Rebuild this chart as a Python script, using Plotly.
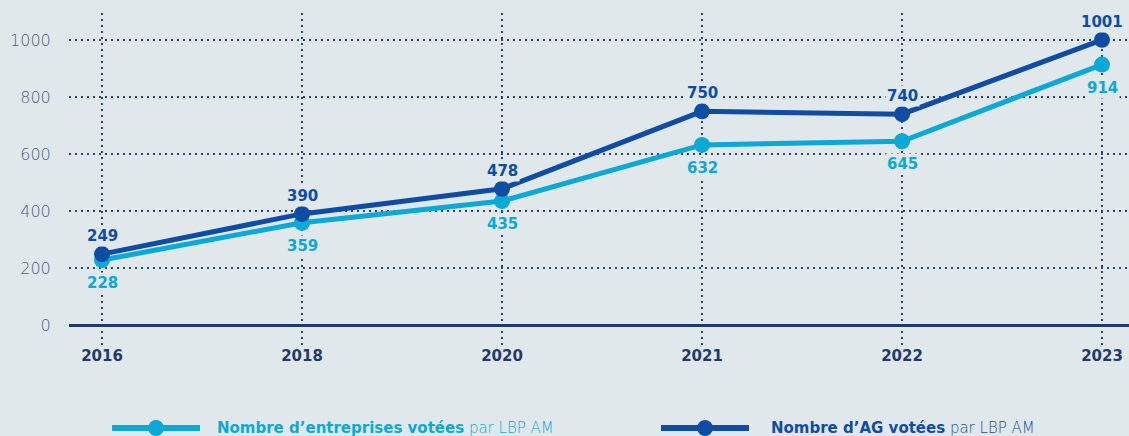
import plotly.graph_objects as go

years = ["2016", "2018", "2020", "2021", "2022", "2023"]
entreprises = [228, 359, 435, 632, 645, 914]
ag = [249, 390, 478, 750, 740, 1001]
y_ticks = [0, 200, 400, 600, 800, 1000]

name_ent = "Nombre d’entreprises votées"
name_ag = "Nombre d’AG votées"
suffix = " par LBP AM"

BG = "#e1e8ec"
CYAN = "#0aa9d6"
DARK = "#0f4ca3"
NAVY = "#1f3a6b"
GRID = "#2a4677"
FONT = "DejaVu Sans"

fig = go.Figure()
fig.add_trace(go.Scatter(
    x=years, y=entreprises, mode="lines+markers",
    line=dict(color=CYAN, width=5), marker=dict(color=CYAN, size=16),
    showlegend=False, cliponaxis=False))
fig.add_trace(go.Scatter(
    x=years, y=ag, mode="lines+markers",
    line=dict(color=DARK, width=5), marker=dict(color=DARK, size=16),
    showlegend=False, cliponaxis=False))

# data labels (category index positions on the category axis)
for i, v in enumerate(entreprises):
    fig.add_annotation(x=i, y=v, text=str(v), showarrow=False, yshift=-23,
                       bgcolor=BG, borderpad=1,
                       font=dict(color=CYAN, size=15, family=FONT, weight="bold"))
for i, v in enumerate(ag):
    fig.add_annotation(x=i, y=v, text=str(v), showarrow=False, yshift=18,
                       bgcolor=BG, borderpad=1,
                       font=dict(color=DARK, size=15, family=FONT, weight="bold"))

fig.update_xaxes(
    type="category", range=[-0.165, 5.135],
    showgrid=True, gridcolor=GRID, griddash="2px,4px", gridwidth=1.5,
    tickfont=dict(color=NAVY, size=15, family=FONT, weight="bold"),
    ticks="", showline=False, zeroline=False, fixedrange=True)
fig.update_yaxes(
    range=[-70, 1095], tickvals=y_ticks,
    showgrid=True, gridcolor=GRID, griddash="2px,4px", gridwidth=1.5,
    zeroline=True, zerolinecolor=NAVY, zerolinewidth=3,
    tickfont=dict(color="#4a6088", size=16, family=FONT, weight=300),
    ticks="outside", ticklen=14, tickcolor="rgba(0,0,0,0)", showline=False,
    fixedrange=True)

# custom legend
legend_items = [
    (0.0406, 0.1377, name_ent, CYAN),
    (0.5585, 0.6600, name_ag, DARK),
]
LW = 0.083
for x0, xt, nm, col in legend_items:
    fig.add_shape(type="line", xref="paper", yref="paper",
                  x0=x0, x1=x0 + LW, y0=-0.25, y1=-0.25,
                  line=dict(color=col, width=6))
    xc = x0 + LW / 2
    fig.add_shape(type="circle", xref="paper", yref="paper",
                  x0=xc - 0.0075, x1=xc + 0.0075, y0=-0.25 - 0.024, y1=-0.25 + 0.024,
                  fillcolor=col, line=dict(color=col, width=0))
    fig.add_annotation(xref="paper", yref="paper", x=xt, y=-0.25,
                       xanchor="left", yanchor="middle", showarrow=False,
                       text=f"<b>{nm}</b><span style='font-weight:300'>{suffix}</span>",
                       font=dict(color=col, size=15, family=FONT))

fig.update_layout(
    width=1129, height=436,
    margin=dict(l=69, r=0, t=13, b=91),
    paper_bgcolor=BG, plot_bgcolor=BG,
    font=dict(family=FONT),
)

fig.write_html("out.html", config={"displayModeBar": False},
               post_script="document.body.style.margin='0';document.body.style.overflow='hidden';")
